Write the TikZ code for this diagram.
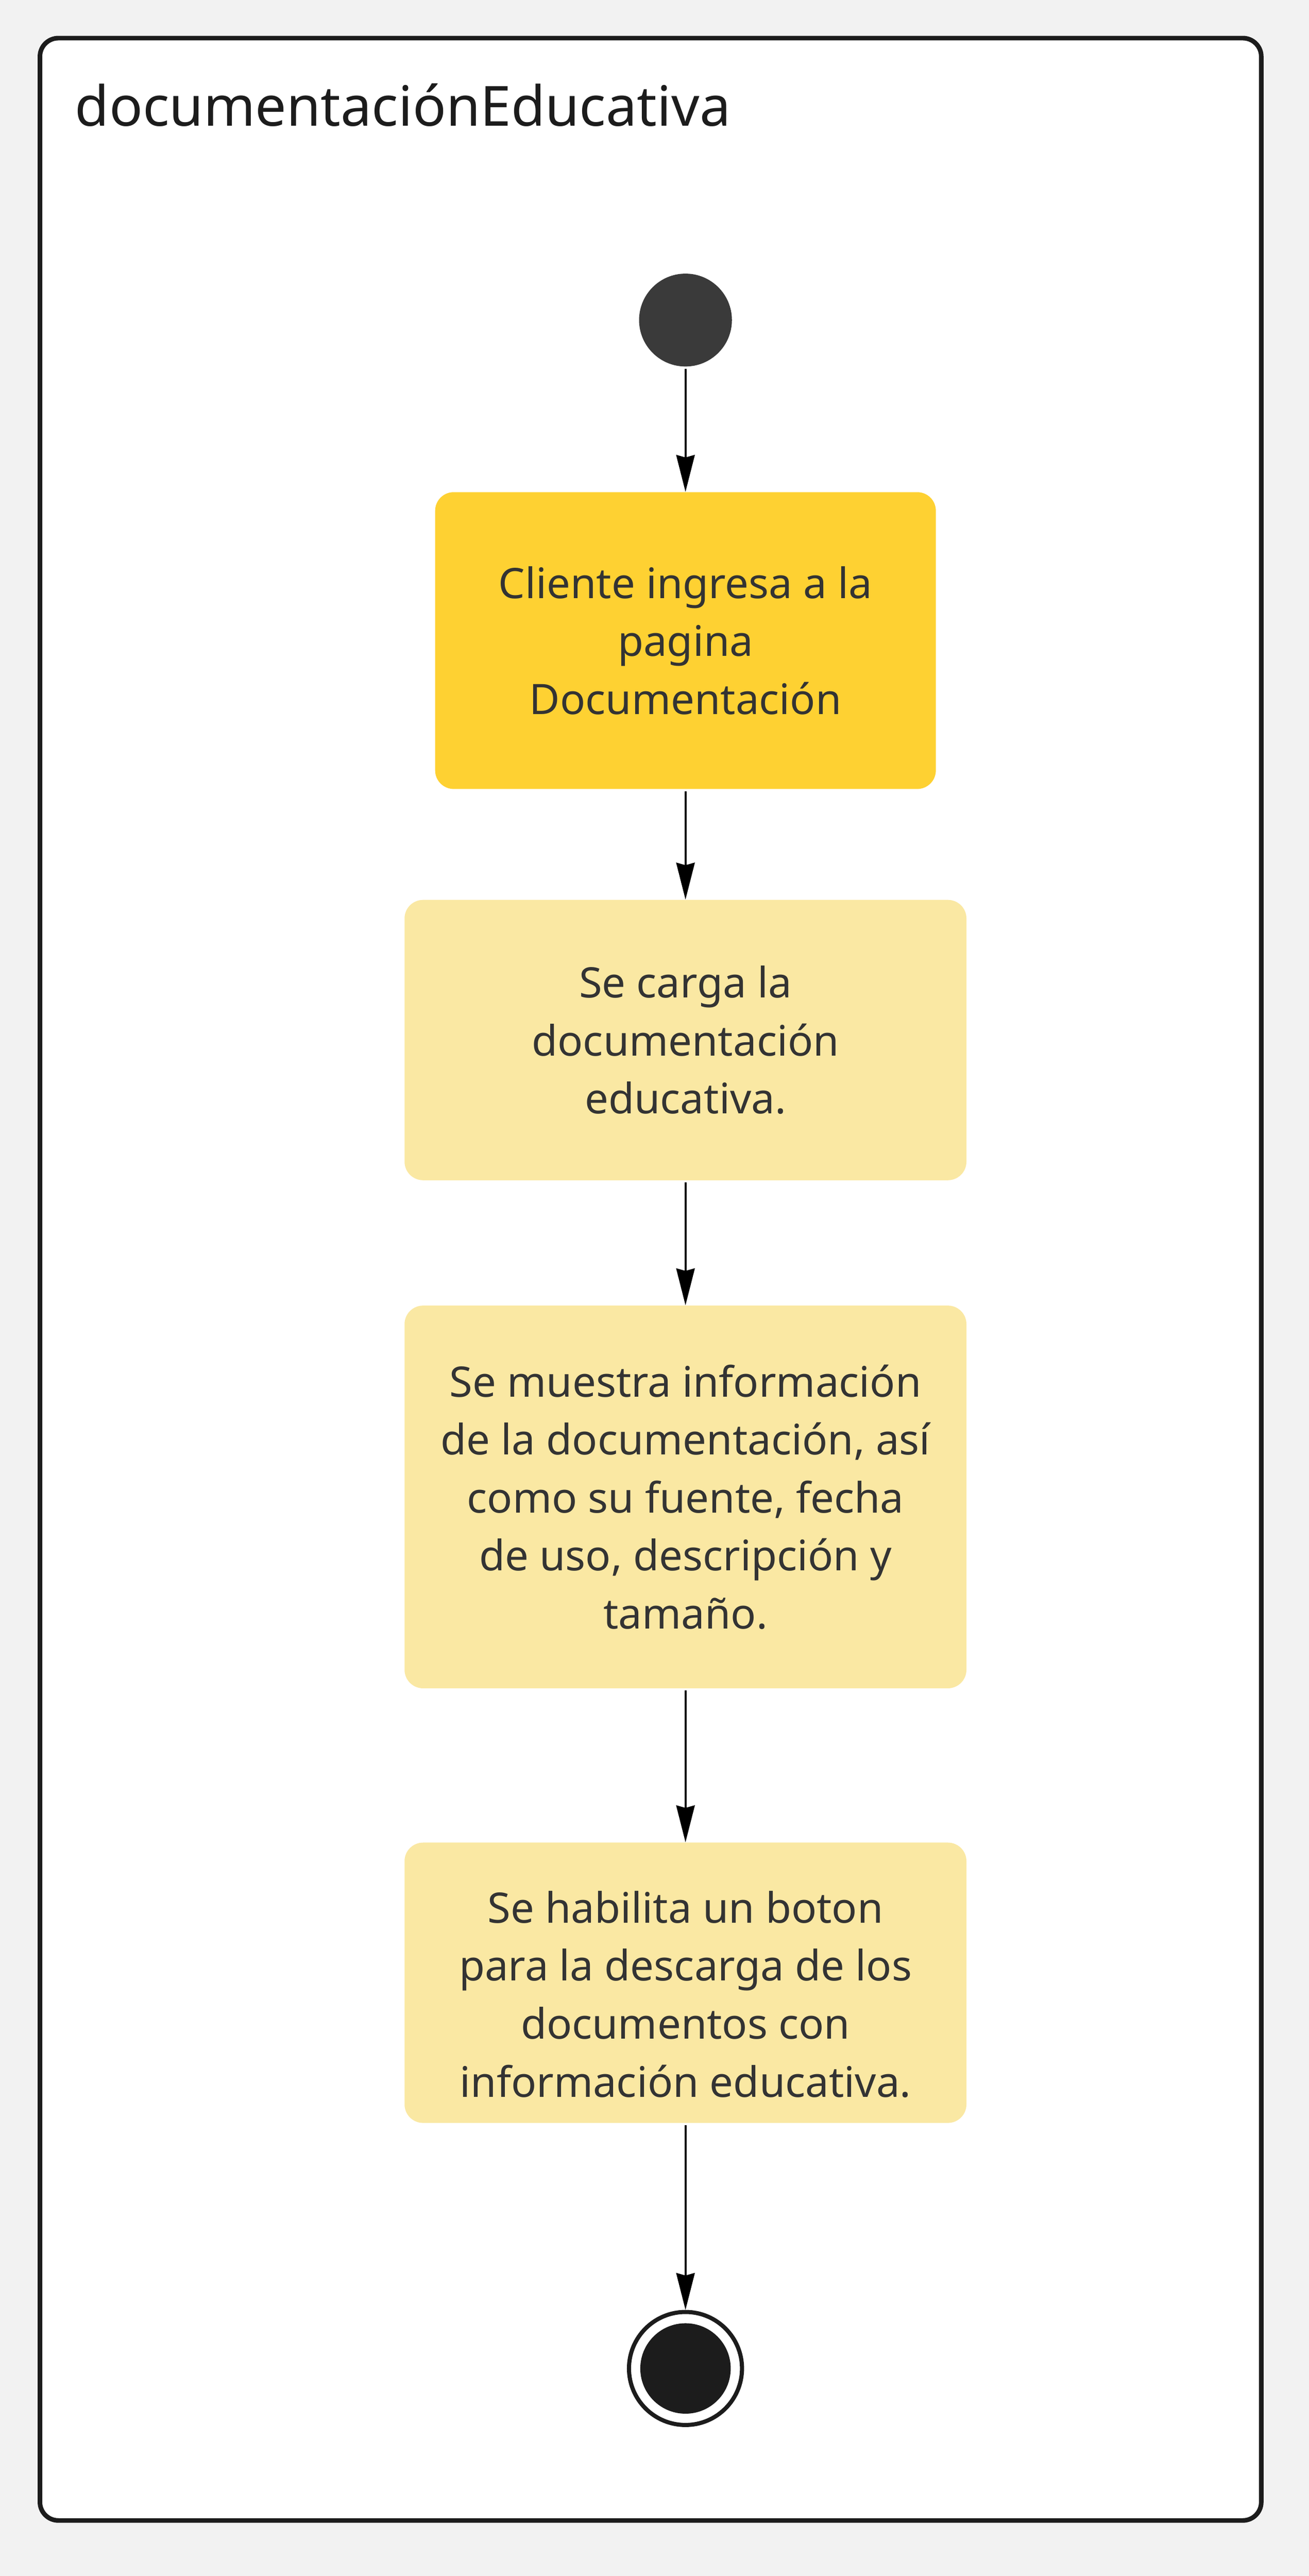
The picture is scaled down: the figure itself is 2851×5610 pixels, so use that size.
\documentclass[tikz,border=0pt]{standalone}
\usepackage{fontspec}
\setmainfont{Noto Sans}
\usetikzlibrary{arrows.meta,positioning}
\definecolor{pagebg}{HTML}{F2F2F2}
\definecolor{framecol}{HTML}{1C1C1C}
\definecolor{actmain}{HTML}{FED132}
\definecolor{actlight}{HTML}{FAE8A3}
\definecolor{startcol}{HTML}{3A3A3A}
\definecolor{txtcol}{HTML}{333333}

\begin{document}
\begin{tikzpicture}[x=0.01cm,y=-0.01cm,
    act/.style={rectangle,rounded corners=11.5pt,fill=actlight,text=txtcol,align=center,
      minimum width=348pt,minimum height=173.6pt,inner sep=0pt,
      font=\fontsize{26}{35.9}\selectfont},
    actfirst/.style={act,fill=actmain,minimum width=310.1pt,minimum height=183.8pt},
    startdot/.style={circle,fill=startcol,minimum size=57.5pt,inner sep=0pt},
    enddot/.style={circle,draw=framecol,line width=2.56pt,fill=white,minimum size=70pt,inner sep=0pt,
      path picture={\fill[framecol] (path picture bounding box.center) circle (28pt);}},
    flow/.style={-{Stealth[length=22.8pt,width=11.4pt,inset=1.5pt]},line width=1.33pt,shorten <=1.2pt}]
    % Page and state frame
    \fill[pagebg] (0,0) rectangle (2851,5610);
    \draw[framecol,line width=2.85pt,rounded corners=11.4pt,fill=white] (87,83) rectangle (2747,5489);
    \node[anchor=base west,inner sep=0pt,text=framecol,font=\fontsize{34.3}{42}\selectfont] (title) at (163,274) {documentaciónEducativa};

    % Activities
    \node[startdot] (ini) at (1493,697) {};
    \node[actfirst] (ingresa) at (1493,1395) {Cliente ingresa a la\\pagina\\Documentación};
    \node[act] (carga) at (1493,2265) {Se carga la\\documentación\\educativa.};
    \node[act,minimum height=237pt] (muestra) at (1493,3260) {Se muestra información\\de la documentación, así\\como su fuente, fecha\\de uso, descripción y\\tamaño.};
    \node[act] (boton) at (1493,4318) {\rule{0pt}{34pt}Se habilita un boton\\para la descarga de los\\documentos con\\información educativa.};
    \node[enddot] (fin) at (1493,5158) {};

    \draw[flow] (ini) -- (ingresa);
    \draw[flow] (ingresa) -- (carga);
    \draw[flow] (carga) -- (muestra);
    \draw[flow] (muestra) -- (boton);
    \draw[flow] (boton) -- (fin);
\end{tikzpicture}
\end{document}
